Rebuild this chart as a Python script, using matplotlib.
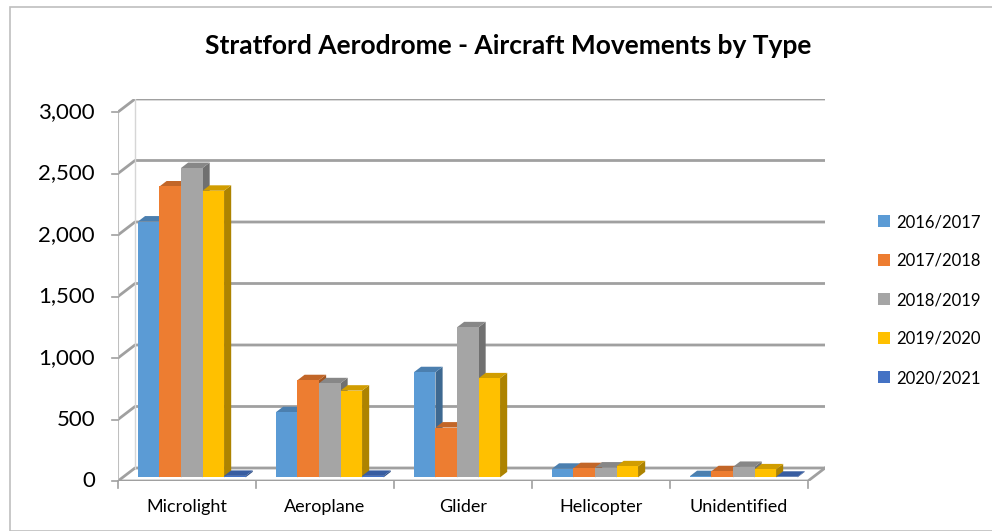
import matplotlib
matplotlib.use("Agg")
import matplotlib.pyplot as plt
from matplotlib.patches import Polygon, Rectangle, Patch
import numpy as np

categories = ["Microlight", "Aeroplane", "Glider", "Helicopter", "Unidentified"]
series_names = ["2016/2017", "2017/2018", "2018/2019", "2019/2020", "2020/2021"]
s2016 = [2080, 530, 855, 70, 10]
s2017 = [2365, 790, 405, 75, 50]
s2018 = [2515, 765, 1220, 80, 85]
s2019 = [2330, 705, 805, 90, 65]
s2020 = [12, 12, 0, 0, 5]
yticks = [0, 500, 1000, 1500, 2000, 2500, 3000]
ytick_labels = ["0", "500", "1,000", "1,500", "2,000", "2,500", "3,000"]
title = "Stratford Aerodrome - Aircraft Movements by Type"

face_colors = ["#5B9BD5", "#ED7D31", "#A5A5A5", "#FFC000", "#4472C4"]

def shade(c, k):
    r, g, b = matplotlib.colors.to_rgb(c)
    return (r * k, g * k, b * k)

plt.rcParams['font.family'] = ['Lato', 'DejaVu Sans']

W, H = 992, 531
fig = plt.figure(figsize=(W / 100, H / 100), dpi=100)

# pixel geometry
px_left, px_front_right, px_bottom, px_top3000 = 118, 808, 481, 112
dpx, dpy = 17, 13
ppu_y = (px_bottom - px_top3000) / 3000.0
ppu_x = (px_front_right - px_left) / 5.0
ddx = dpx / ppu_x
ddy = dpy / ppu_y

ax = fig.add_axes([px_left / W, 1 - px_bottom / H,
                   (px_front_right + dpx - px_left) / W,
                   (px_bottom - (px_top3000 - dpy)) / H])
ax.set_xlim(-0.5, 4.5 + ddx)
ax.set_ylim(0, 3000 + ddy)
ax.axis("off")

gcol = "#a0a0a0"
# gridlines with side-wall diagonals
for v in yticks:
    ax.plot([-0.5, -0.5 + ddx, 4.5 + ddx], [v, v + ddy, v + ddy],
            color=gcol, lw=2.0, solid_capstyle="butt", zorder=1)
# left wall vertical edges
ax.plot([-0.5, -0.5], [0, 3000], color="#bfbfbf", lw=1.5, zorder=1)
ax.plot([-0.5 + ddx, -0.5 + ddx], [ddy, 3000 + ddy], color="#d6d6d6", lw=1.0, zorder=1)
# floor front and right edges
ax.plot([-0.5, 4.5, 4.5 + ddx], [0, 0, ddy], color=gcol, lw=2.0, zorder=1)
# y ticks
tick_dx = 6 / ppu_x
for v, lab in zip(yticks, ytick_labels):
    ax.plot([-0.5 - tick_dx, -0.5], [v, v], color=gcol, lw=1.2, clip_on=False)
    ax.text(-0.5 - 23 / ppu_x, v, lab, ha="right", va="center", fontsize=16,
            color="#000000", clip_on=False)
# x ticks
for i in range(6):
    ax.plot([-0.5 + i, -0.5 + i], [0, -7 / ppu_y], color=gcol, lw=1.2, clip_on=False)
for i, c in enumerate(categories):
    ax.text(i, -26 / ppu_y, c, ha="center", va="center", fontsize=13, clip_on=False)

# bars
series = [s2016, s2017, s2018, s2019, s2020]
nb = len(series)
bw = 0.156
f0, f1 = 0.28, 0.70
bx, by = f0 * ddx, f0 * ddy
dx3, dy3 = (f1 - f0) * ddx, (f1 - f0) * ddy
for i in range(len(categories)):
    for j, s in enumerate(series):
        v = s[i]
        if v <= 0:
            continue
        x0 = i - nb * bw / 2 + j * bw + bx
        y0 = by
        col = face_colors[j]
        side = Polygon([(x0 + bw, y0), (x0 + bw, y0 + v), (x0 + bw + dx3, y0 + v + dy3),
                        (x0 + bw + dx3, y0 + dy3)], closed=True,
                       facecolor=shade(col, 0.68), edgecolor="none", zorder=3)
        top = Polygon([(x0, y0 + v), (x0 + bw, y0 + v), (x0 + bw + dx3, y0 + v + dy3),
                       (x0 + dx3, y0 + v + dy3)], closed=True,
                      facecolor=shade(col, 0.82), edgecolor="none", zorder=3)
        ax.add_patch(side)
        ax.add_patch(top)
        ax.add_patch(Rectangle((x0, y0), bw, v, facecolor=col, edgecolor="none", zorder=3))

fig.text(508 / W, 1 - 46 / H, title, ha="center", va="center", fontsize=19,
         fontweight="bold")

handles = [Patch(facecolor=c, edgecolor="none") for c in face_colors]
fig.legend(handles, series_names, loc="center left", bbox_to_anchor=(863 / W, 1 - 300 / H),
           frameon=False, fontsize=12, labelspacing=1.38, handlelength=0.7,
           handleheight=0.7, handletextpad=0.4)

# chart border
fig.patches.append(Rectangle((10 / W, 0), 2, 1 - 7 / H, transform=fig.transFigure,
                             facecolor="none", edgecolor="#bfbfbf", lw=1.2))

fig.savefig("out.png", dpi=100)
